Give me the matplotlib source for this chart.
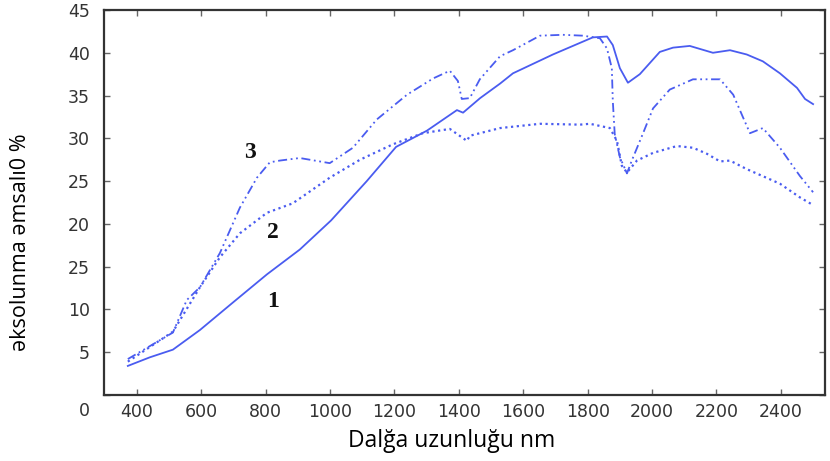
import matplotlib
matplotlib.use("Agg")
import matplotlib.pyplot as plt
from matplotlib.transforms import ScaledTranslation

# --- data ---
x1 = [372, 440, 512, 596, 698, 804, 906, 1003, 1114, 1205, 1301, 1394, 1413, 1466, 1528, 1568,
      1692, 1816, 1860, 1878, 1900, 1925, 1962, 2024, 2065, 2117, 2189, 2242, 2294, 2344,
      2397, 2450, 2475, 2500]
y1 = [3.4, 4.4, 5.3, 7.6, 10.8, 14.1, 17.0, 20.4, 25.0, 29.0, 30.9, 33.3, 33.0, 34.7, 36.4, 37.6,
      39.8, 41.8, 41.9, 40.9, 38.2, 36.5, 37.5, 40.1, 40.6, 40.8, 40.0, 40.3, 39.8, 39.0,
      37.6, 35.9, 34.6, 34.0]

x2 = [372, 512, 596, 658, 720, 804, 884, 999, 1093, 1195, 1288, 1372, 1425, 1434, 1528,
      1652, 1776, 1807, 1869, 1891, 1906, 1922, 1953, 2003, 2077, 2127, 2170, 2211, 2242,
      2294, 2397, 2459, 2500]
y2 = [3.9, 7.4, 12.6, 16.1, 18.9, 21.3, 22.4, 25.4, 27.5, 29.3, 30.6, 31.1, 29.7, 30.3, 31.2,
      31.7, 31.6, 31.7, 31.2, 29.7, 26.8, 26.0, 27.4, 28.3, 29.1, 28.9, 28.2, 27.3, 27.4,
      26.4, 24.7, 23.1, 22.2]

x3 = [372, 512, 555, 596, 658, 720, 773, 813, 844, 906, 999, 1071, 1145, 1239, 1320, 1372,
      1397, 1409, 1434, 1465, 1528, 1568, 1652, 1723, 1785, 1838, 1860, 1875, 1878, 1884,
      1900, 1922, 1937, 1971, 2003, 2055, 2127, 2211, 2252, 2283, 2304, 2344, 2397, 2459, 2500]
y3 = [4.2, 7.3, 11.1, 12.6, 16.6, 21.9, 25.4, 27.2, 27.4, 27.7, 27.1, 28.9, 32.2, 35.1, 37.0,
      37.9, 36.7, 34.6, 34.7, 36.9, 39.6, 40.3, 42.0, 42.1, 42.0, 41.7, 40.5, 38.2, 34.4, 30.5,
      27.8, 25.9, 27.4, 30.5, 33.5, 35.7, 36.9, 36.9, 35.1, 32.4, 30.6, 31.2, 28.9, 25.6, 23.7]

xticks = [400, 600, 800, 1000, 1200, 1400, 1600, 1800, 2000, 2200, 2400]
yticks = [0, 5, 10, 15, 20, 25, 30, 35, 40, 45]
ytick_labels = ["0", "5", "10", "25", "20", "25", "30", "35", "40", "45"]

curve_labels = ["1", "2", "3"]
curve_label_pos = [(823, 10.9), (823, 19.0), (751, 28.4)]

# --- figure ---
fig = plt.figure(figsize=(8.3, 4.61), dpi=100)
ax = fig.add_axes([104 / 830, (461 - 395) / 461, (825 - 104) / 830, (395 - 10) / 461])

blue = "#4a5cf0"
ax.plot(x1, y1, color=blue, lw=1.3, ls="-")
ax.plot(x2, y2, color=blue, lw=1.6, ls=(0, (1, 1.6)))
ax.plot(x3, y3, color=blue, lw=1.3, ls=(0, (5, 2, 1, 2, 1, 2)))

for t, (px, py) in zip(curve_labels, curve_label_pos):
    ax.text(px, py, t, fontsize=17, fontweight="bold", family="Liberation Serif",
            ha="center", va="center", color="#111111")

ax.set_xlim(298, 2537)
ax.set_ylim(0, 45)
ax.set_xticks(xticks)
ax.set_yticks(yticks)
ax.set_yticklabels(ytick_labels)

ax.tick_params(direction="in", length=4, width=1, color="#666666",
               top=True, right=True, labelsize=12.5, labelcolor="#333333")
ax.tick_params(axis="x", pad=6)
ax.tick_params(axis="y", pad=10)

for sp in ax.spines.values():
    sp.set_linewidth(1.6)
    sp.set_color("#333333")

# shift the "0" label down to align with x tick labels
lab0 = ax.get_yticklabels()[0]
lab0.set_transform(lab0.get_transform() + ScaledTranslation(0, -14 / 100, fig.dpi_scale_trans))

ax.set_xlabel("Dalğa uzunluğu nm", fontsize=16.5, family=["Open Sans", "DejaVu Sans"],
              color="black")
ax.set_ylabel("əksolunma əmsalı0 %", fontsize=15.5, family=["Open Sans", "DejaVu Sans"],
              color="black")
ax.xaxis.set_label_coords((452 - 104) / 721, -(441 - 395) / 385)
ax.yaxis.set_label_coords((20 - 104) / 721, (395 - 242) / 385)
ax.xaxis.label.set_va("center")
ax.yaxis.label.set_va("center")

fig.savefig("out.png", dpi=100)
